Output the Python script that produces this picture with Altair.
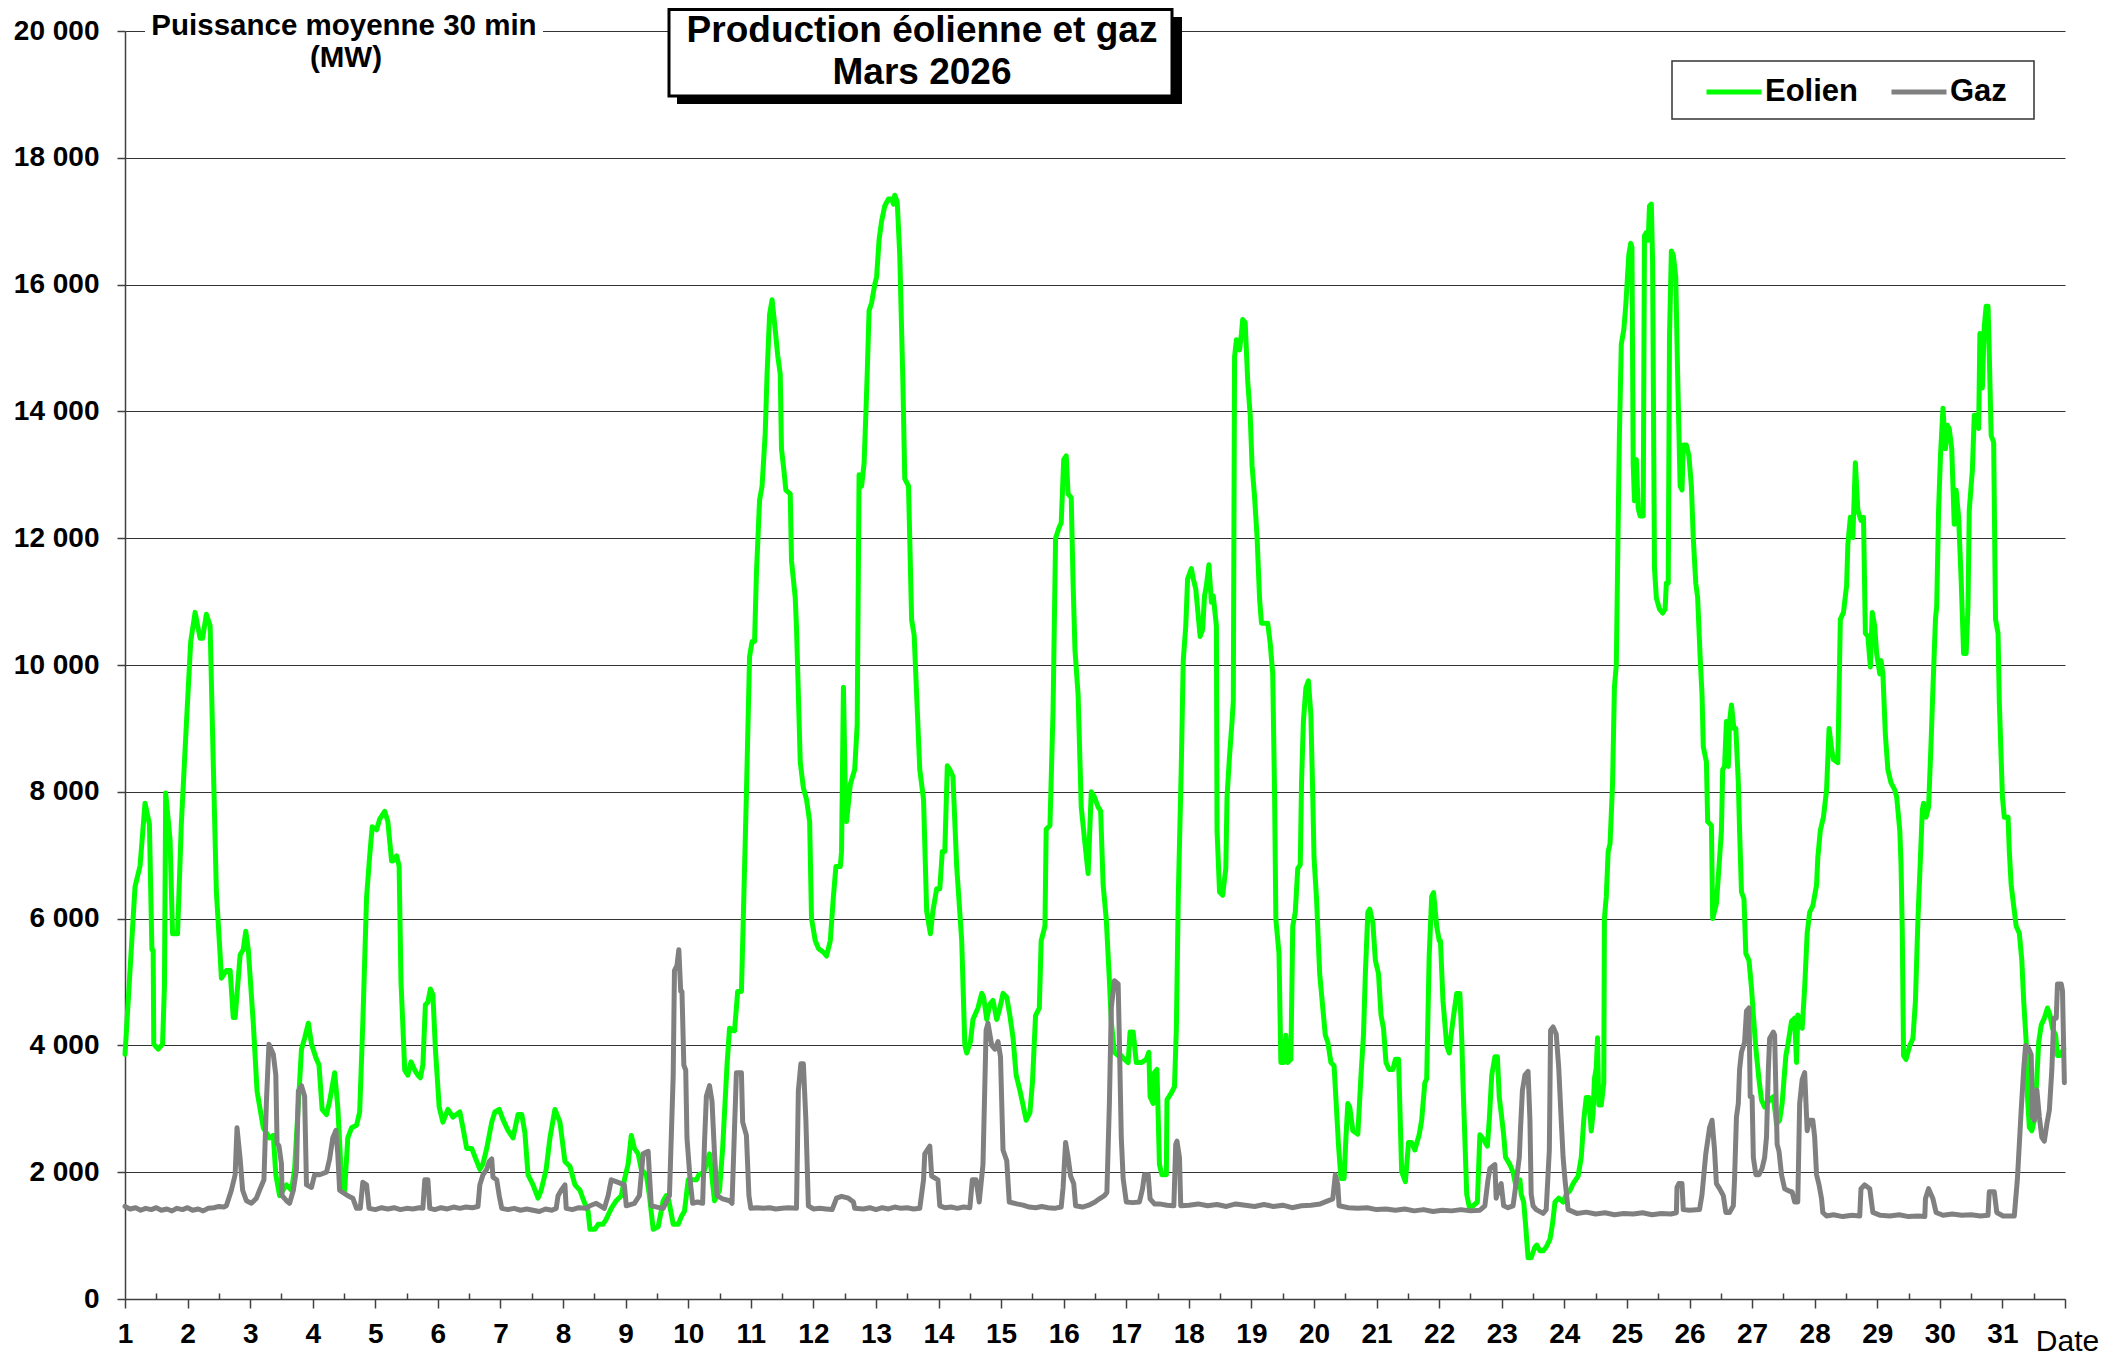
import altair as alt
import pandas as pd

# ---------------- data ----------------
eolien_t = [
    1.00, 1.05, 1.16, 1.24, 1.28, 1.32, 1.39, 1.43, 1.45, 1.46, 1.53, 1.60, 1.63, 1.65, 1.72, 1.76, 1.84, 1.90, 1.98,
    2.05, 2.12, 2.20, 2.24, 2.30, 2.36, 2.40, 2.46, 2.52, 2.54, 2.62, 2.68, 2.73, 2.76, 2.84, 2.89, 2.93, 2.97,
    3.05, 3.11, 3.21, 3.31, 3.37, 3.41, 3.47, 3.58, 3.66, 3.71, 3.82, 3.87, 3.93, 3.98,
    4.06, 4.10, 4.15, 4.22, 4.27, 4.35, 4.40, 4.46, 4.51, 4.56, 4.62, 4.70, 4.75, 4.80, 4.86, 4.91, 4.95,
    5.02, 5.07, 5.15, 5.20, 5.26, 5.28, 5.34, 5.38, 5.41, 5.47, 5.52, 5.57, 5.63, 5.68, 5.72, 5.76, 5.80, 5.84, 5.88, 5.92, 5.96,
    6.02, 6.08, 6.16, 6.24, 6.35, 6.40, 6.46, 6.54, 6.62, 6.67, 6.72, 6.78, 6.86, 6.91, 6.98,
    7.04, 7.12, 7.20, 7.28, 7.34, 7.39, 7.44, 7.52, 7.60, 7.65, 7.73, 7.79, 7.87, 7.95,
    8.03, 8.11, 8.19, 8.27, 8.33, 8.40, 8.43, 8.51, 8.56, 8.64, 8.69, 8.77, 8.85, 8.93, 8.98,
    9.04, 9.09, 9.14, 9.20, 9.25, 9.33, 9.38, 9.44, 9.52, 9.60, 9.65, 9.69, 9.76, 9.84, 9.89, 9.94,
    10.00, 10.13, 10.17, 10.25, 10.34, 10.42, 10.50, 10.55, 10.62, 10.66, 10.74, 10.79, 10.85, 10.88, 10.93, 10.98,
    11.02, 11.06, 11.09, 11.14, 11.18, 11.23, 11.26, 11.30, 11.34, 11.39, 11.43, 11.47, 11.49, 11.53, 11.56, 11.63, 11.65,
    11.71, 11.73, 11.79, 11.84, 11.89, 11.94, 11.97,
    12.03, 12.08, 12.16, 12.21, 12.27, 12.32, 12.36, 12.43, 12.45, 12.48, 12.51, 12.53, 12.59, 12.66, 12.70, 12.73, 12.77,
    12.81, 12.84, 12.86, 12.89, 12.93, 12.98,
    13.01, 13.05, 13.09, 13.14, 13.20, 13.25, 13.28, 13.30, 13.34, 13.38, 13.43, 13.46, 13.52, 13.57, 13.61, 13.65, 13.70,
    13.76, 13.81, 13.87, 13.91, 13.97,
    14.02, 14.06, 14.10, 14.14, 14.18, 14.23, 14.29, 14.33, 14.37, 14.42, 14.45, 14.51, 14.55, 14.63, 14.69, 14.72, 14.77,
    14.82, 14.87, 14.93, 14.98,
    15.03, 15.09, 15.14, 15.19, 15.24, 15.30, 15.35, 15.40, 15.46, 15.50, 15.55, 15.61, 15.64, 15.70, 15.72, 15.78, 15.83,
    15.87, 15.93, 15.96,
    16.00, 16.04, 16.07, 16.12, 16.15, 16.18, 16.23, 16.28, 16.34, 16.39, 16.44, 16.49, 16.55, 16.59, 16.63, 16.68, 16.73,
    16.76, 16.81, 16.87, 16.92, 16.97,
    17.03, 17.06, 17.11, 17.16, 17.24, 17.32, 17.36, 17.38, 17.43, 17.45, 17.49, 17.53, 17.57, 17.64, 17.65, 17.72, 17.77,
    17.80, 17.83, 17.88, 17.91, 17.95, 17.98,
    18.04, 18.07, 18.11, 18.14, 18.18, 18.22, 18.25, 18.28, 18.32, 18.36, 18.39, 18.44, 18.45, 18.49, 18.54, 18.59, 18.61,
    18.65, 18.69, 18.71, 18.73, 18.76, 18.81, 18.84, 18.86, 18.90, 18.94, 18.98,
    19.01, 19.05, 19.09, 19.13, 19.16, 19.21, 19.26, 19.30, 19.34, 19.37, 19.39, 19.44, 19.47, 19.51, 19.55, 19.58, 19.63,
    19.66, 19.70, 19.74, 19.78, 19.80, 19.83, 19.87, 19.91, 19.95, 19.98,
    20.00, 20.04, 20.09, 20.14, 20.18, 20.22, 20.27, 20.32, 20.36, 20.39, 20.43, 20.48, 20.51, 20.54, 20.57, 20.62, 20.70,
    20.75, 20.79, 20.82, 20.86, 20.89, 20.94, 20.98,
    21.03, 21.07, 21.11, 21.15, 21.20, 21.26, 21.30, 21.35, 21.37, 21.40, 21.46, 21.51, 21.56, 21.61, 21.68, 21.72, 21.77,
    21.80, 21.84, 21.88, 21.91, 21.96,
    22.00, 22.02, 22.06, 22.12, 22.16, 22.20, 22.23, 22.28, 22.33, 22.36, 22.38, 22.44, 22.49, 22.54, 22.61, 22.65, 22.70,
    22.77, 22.80, 22.84, 22.89, 22.93, 22.96, 22.99,
    23.03, 23.06, 23.13, 23.18, 23.23, 23.29, 23.31, 23.35, 23.38, 23.42, 23.47, 23.53, 23.56, 23.61, 23.66, 23.71, 23.77,
    23.81, 23.85, 23.91, 23.98,
    24.03, 24.09, 24.14, 24.22, 24.27, 24.31, 24.35, 24.39, 24.43, 24.46, 24.48, 24.51, 24.53, 24.55, 24.59, 24.63, 24.64,
    24.67, 24.70, 24.73, 24.77, 24.80, 24.83, 24.86, 24.88, 24.91, 24.95, 24.98,
    25.03, 25.06, 25.08, 25.10, 25.12, 25.15, 25.18, 25.21, 25.26, 25.28, 25.31, 25.34, 25.36, 25.39, 25.41, 25.44, 25.47,
    25.52, 25.57, 25.61, 25.63, 25.66, 25.68, 25.71, 25.74, 25.78, 25.81, 25.85, 25.88, 25.90, 25.95, 25.99,
    26.03, 26.06, 26.10, 26.13, 26.17, 26.20, 26.22, 26.27, 26.29, 26.35, 26.37, 26.43, 26.47, 26.51, 26.53, 26.56, 26.59,
    26.62, 26.64, 26.67, 26.71, 26.74, 26.78, 26.80, 26.83, 26.87, 26.90, 26.95, 26.99,
    27.02, 27.06, 27.11, 27.15, 27.20, 27.28, 27.34, 27.39, 27.44, 27.48, 27.54, 27.57, 27.63, 27.68, 27.71, 27.73, 27.80,
    27.84, 27.88, 27.92, 27.97,
    28.03, 28.05, 28.09, 28.14, 28.19, 28.23, 28.27, 28.30, 28.37, 28.41, 28.46, 28.51, 28.53, 28.57, 28.61, 28.65, 28.69,
    28.74, 28.78, 28.81, 28.85, 28.89, 28.92, 28.96, 28.99,
    29.04, 29.06, 29.09, 29.13, 29.17, 29.22, 29.28, 29.31, 29.36, 29.38, 29.40, 29.42, 29.46, 29.52, 29.57, 29.61, 29.65,
    29.69, 29.72, 29.74, 29.78, 29.82, 29.86, 29.89, 29.93, 29.95, 29.98,
    30.01, 30.05, 30.09, 30.12, 30.15, 30.19, 30.23, 30.26, 30.30, 30.34, 30.38, 30.42, 30.45, 30.47, 30.52, 30.55, 30.59,
    30.62, 30.64, 30.68, 30.71, 30.74, 30.77, 30.79, 30.82, 30.86, 30.89, 30.93, 30.95,
    31.00, 31.03, 31.09, 31.11, 31.14, 31.18, 31.22, 31.27, 31.31, 31.34, 31.38, 31.40, 31.43, 31.47, 31.51, 31.54, 31.58,
    31.62, 31.67, 31.72, 31.76, 31.80, 31.85, 31.88, 31.92, 31.98,
]
eolien_mw = [
    3860, 4680, 6500, 6830, 7320, 7820, 7490, 5510, 5500, 4020, 3940, 4020, 4930, 7980, 7240, 5760, 5760, 7490, 9050,
    10370, 10830, 10420, 10420, 10800, 10620, 8890, 6420, 5430, 5060, 5180, 5180, 4440, 4440, 5430, 5510, 5800, 5510,
    4350, 3280, 2700, 2540, 2580, 1960, 1630, 1800, 1715, 2045, 3940, 4110, 4350, 4020,
    3780, 3690, 2990, 2910, 3120, 3570, 3030, 1880, 1715, 2540, 2700, 2740, 2950, 4350, 6330, 6990, 7450,
    7400, 7570, 7690, 7530, 6910, 6910, 6990, 6830, 5010, 3610, 3530, 3740, 3610, 3530, 3490, 3690, 4640, 4680, 4890, 4800, 3940,
    3030, 2790, 2990, 2870, 2950, 2700, 2375, 2375, 2170, 2045, 2130, 2375, 2790, 2950, 2990,
    2830, 2660, 2540, 2910, 2910, 2620, 1960, 1800, 1590, 1715, 2045, 2540, 2990, 2790,
    2170, 2090, 1800, 1715, 1550, 1385, 1100, 1100, 1180, 1180, 1260, 1430, 1550, 1630, 1880,
    2130, 2580, 2375, 2290, 2045, 1960, 1630, 1100, 1140, 1550, 1630, 1550, 1180, 1180, 1300, 1385,
    1880, 1880, 1960, 2000, 2290, 1550, 1715, 2375, 3690, 4270, 4230, 4850, 4850, 6000, 7980, 10130,
    10370, 10370, 11450, 12600, 12820, 13650, 14590, 15530, 15760, 15290, 14880, 14590, 13410, 13060, 12760, 12700, 11650,
    11060, 10590, 8470, 8060, 7880, 7530, 6000,
    5650, 5530, 5470, 5410, 5650, 6350, 6820, 6820, 7060, 9650, 8000, 7530, 8120, 8350, 9060, 13000, 12820,
    13180, 14000, 14590, 15590, 15710, 16000,
    16120, 16710, 17000, 17240, 17350, 17350, 17270, 17410, 17300, 16470, 14470, 12940, 12820, 10710, 10470, 9530, 8350,
    7880, 6120, 5760, 6120, 6470,
    6470, 7060, 7060, 8410, 8350, 8240, 6820, 6240, 5650, 4000, 3880, 4060, 4410, 4590, 4820, 4760, 4410,
    4650, 4710, 4410, 4590,
    4820, 4760, 4470, 4120, 3530, 3290, 3060, 2820, 2940, 3410, 4470, 4590, 5650, 5880, 7410, 7470, 9290,
    12000, 12180, 12240,
    13240, 13300, 12700, 12640, 11290, 10240, 9530, 7760, 7180, 6710, 8000, 7920, 7760, 7700, 6530, 5990, 5020,
    4380, 3890, 3840, 3840, 3780,
    3730, 4210, 4210, 3730, 3730, 3780, 3890, 3190, 3085, 3570, 3620, 2120, 1960, 1960, 3140, 3250, 3350,
    4270, 6310, 8460, 10070, 10610, 11360,
    11520, 11360, 11200, 10880, 10450, 10560, 11090, 11250, 11580, 10990, 11090, 10610, 7390, 6420, 6370, 6790, 7920,
    8570, 9110, 9430, 14860, 15130, 14970, 15230, 15450, 15400, 14480, 13940,
    13140, 12650, 12010, 11040, 10660, 10660, 10660, 10340, 9860, 7920, 5990, 5450, 3730, 3730, 4160, 3730, 3780,
    5880, 6100, 6790, 6850, 8140, 9110, 9640, 9750, 9210, 7920,
    6960, 6310, 5130, 4590, 4160, 4050, 3730, 3680, 2980, 2440, 1900, 1900, 2550, 3085, 3030, 2655, 2600,
    3520, 4160, 5130, 6100, 6150, 5930, 5340,
    5130, 4480, 4270, 3730, 3620, 3620, 3780, 3780, 3085, 2010, 1850, 2470, 2470, 2350, 2590, 2820, 3410,
    3470, 5410, 6350, 6410, 5880,
    5650, 5650, 4710, 4000, 3880, 4240, 4470, 4820, 4820, 4120, 3410, 1650, 1410, 1470, 1530, 2590, 2530,
    2410, 2820, 3530, 3820, 3820, 3180, 2940,
    2590, 2235, 2120, 2000, 1760, 1880, 1650, 1530, 1180, 650, 650, 820, 850, 760, 760, 820, 940,
    1180, 1530, 1590, 1530,
    1650, 1710, 1820, 1940, 2235, 2820, 3180, 3180, 2650, 2940, 3470, 3650, 4120, 3060, 3060, 3410, 6000,
    6350, 7060, 7180, 8120, 9650, 10000, 12240, 13650, 15060, 15290, 15650,
    16470, 16650, 16590, 13180, 12590, 13240, 12470, 12350, 12350, 16770, 16820, 16700, 17240, 17270, 16350, 11530, 11060,
    10880, 10820, 10880, 11290, 11290, 15180, 16530, 16470, 16120, 14590, 12820, 12760, 13470, 13470, 13300,
    12820, 12000, 11290, 11060, 10120, 9530, 8710, 8470, 7530, 7470, 6000, 6240, 6800, 7390, 8350, 8400, 9110,
    8400, 9110, 9370, 9000, 9000, 8140, 7390, 6420, 6310, 5450, 5340, 4910,
    4480, 3950, 3460, 3140, 3030, 3140, 3190, 2760, 2820, 3085, 3840, 4000, 4380, 4430, 3730, 4480, 4270,
    4910, 5770, 6100, 6200,
    6530, 6960, 7390, 7600, 8030, 9000, 8680, 8510, 8460, 10720, 10830, 11250, 11900, 12330, 12010, 13190, 12440,
    12280, 12330, 10500, 10450, 9970, 10830, 10610, 10180,
    9860, 10070, 9860, 8890, 8350, 8140, 8030, 7920, 7390, 6850, 5770, 3840, 3780, 4000, 4110, 4700, 5990,
    6960, 7710, 7820, 7600, 7760, 8780, 9640, 10720, 10930, 12440,
    13300, 14050, 13410, 13780, 13730, 13410, 12220, 12760, 12330, 11360, 10180, 10180, 10930, 12440, 13080, 13940, 13940,
    13730, 15230, 14370, 15340, 15660, 15660, 14910, 13620, 13510, 10720, 10500, 9430,
    7920, 7600, 7600, 7060, 6530, 6200, 5880, 5770, 5340, 4700, 4050, 3190, 2710, 2655, 2820, 3300, 4050,
    4320, 4430, 4590, 4480, 4270, 4160, 3840, 3840, 3950,
]

gaz_t = [
    1.00, 1.08, 1.17, 1.25, 1.33, 1.42, 1.50, 1.58, 1.67, 1.75, 1.83, 1.92, 2.00, 2.08, 2.17, 2.25, 2.33, 2.42, 2.50,
    2.58, 2.62, 2.70, 2.76, 2.79, 2.84, 2.88, 2.94, 3.02, 3.10, 3.15, 3.22, 3.26, 3.30, 3.37, 3.41, 3.43, 3.46, 3.50,
    3.51, 3.58, 3.63, 3.69, 3.74, 3.77, 3.82, 3.87, 3.90, 3.98, 4.03, 4.11, 4.22, 4.27, 4.32, 4.37, 4.40, 4.43, 4.48,
    4.56, 4.64, 4.70, 4.76, 4.80, 4.86, 4.90, 5.00, 5.10, 5.20, 5.30, 5.40, 5.50, 5.60, 5.70, 5.76, 5.79, 5.84, 5.87,
    5.95, 6.05, 6.15, 6.25, 6.35, 6.45, 6.55, 6.64, 6.67, 6.72, 6.78, 6.82, 6.86, 6.88, 6.94, 6.98, 7.02, 7.12, 7.22,
    7.32, 7.42, 7.52, 7.62, 7.72, 7.82, 7.89, 7.92, 7.97, 8.03, 8.05, 8.15, 8.25, 8.37, 8.43, 8.53, 8.66, 8.72, 8.77,
    8.88, 8.98, 9.01, 9.14, 9.22, 9.28, 9.36, 9.38, 9.41, 9.50, 9.60, 9.70, 9.76, 9.78, 9.82, 9.85, 9.88, 9.90, 9.93,
    9.96, 9.98, 10.03, 10.07, 10.15, 10.23, 10.26, 10.29, 10.34, 10.38, 10.42, 10.46, 10.55, 10.66, 10.70, 10.74,
    10.77, 10.85, 10.87, 10.93, 10.97, 11.00, 11.10, 11.20, 11.30, 11.40, 11.50, 11.60, 11.73, 11.76, 11.80, 11.84,
    11.88, 11.92, 12.00, 12.10, 12.20, 12.30, 12.37, 12.45, 12.56, 12.64, 12.66, 12.80, 12.90, 13.00, 13.10, 13.20,
    13.30, 13.40, 13.50, 13.60, 13.70, 13.76, 13.78, 13.86, 13.89, 13.99, 14.02, 14.10, 14.20, 14.30, 14.40, 14.50,
    14.54, 14.60, 14.65, 14.71, 14.76, 14.79, 14.85, 14.90, 14.95, 14.99, 15.03, 15.09, 15.13, 15.25, 15.35, 15.45,
    15.55, 15.65, 15.75, 15.85, 15.96, 15.99, 16.03, 16.07, 16.11, 16.16, 16.19, 16.30, 16.40, 16.50, 16.57, 16.65,
    16.69, 16.73, 16.76, 16.81, 16.87, 16.89, 16.92, 16.95, 17.00, 17.10, 17.21, 17.26, 17.29, 17.35, 17.38, 17.45,
    17.53, 17.65, 17.76, 17.79, 17.81, 17.85, 17.87, 18.00, 18.15, 18.30, 18.45, 18.60, 18.75, 18.90, 19.05, 19.20,
    19.35, 19.50, 19.65, 19.80, 19.95, 20.10, 20.30, 20.34, 20.38, 20.40, 20.55, 20.70, 20.85, 21.00, 21.15, 21.30,
    21.45, 21.60, 21.75, 21.90, 22.05, 22.20, 22.35, 22.50, 22.65, 22.73, 22.78, 22.81, 22.89, 22.91, 22.96, 22.99,
    23.03, 23.10, 23.18, 23.22, 23.28, 23.30, 23.33, 23.37, 23.42, 23.45, 23.47, 23.50, 23.55, 23.66, 23.71, 23.76,
    23.78, 23.82, 23.87, 23.91, 23.95, 23.98, 24.01, 24.06, 24.20, 24.35, 24.50, 24.65, 24.80, 24.95, 25.10, 25.25,
    25.40, 25.55, 25.70, 25.79, 25.80, 25.83, 25.88, 25.90, 26.00, 26.16, 26.20, 26.26, 26.32, 26.36, 26.40, 26.43,
    26.48, 26.54, 26.58, 26.64, 26.70, 26.72, 26.75, 26.78, 26.80, 26.83, 26.88, 26.91, 26.95, 26.97, 27.00, 27.02,
    27.06, 27.11, 27.16, 27.20, 27.23, 27.26, 27.28, 27.34, 27.36, 27.40, 27.43, 27.47, 27.52, 27.60, 27.64, 27.68,
    27.73, 27.76, 27.80, 27.84, 27.88, 27.92, 27.97, 28.00, 28.03, 28.07, 28.11, 28.13, 28.19, 28.30, 28.45, 28.60,
    28.72, 28.74, 28.80, 28.88, 28.93, 29.05, 29.20, 29.35, 29.50, 29.65, 29.76, 29.77, 29.82, 29.89, 29.94, 30.05,
    30.20, 30.35, 30.50, 30.65, 30.77, 30.79, 30.87, 30.91, 31.01, 31.19, 31.24, 31.30, 31.34, 31.37, 31.42, 31.46,
    31.48, 31.51, 31.55, 31.59, 31.63, 31.67, 31.71, 31.75, 31.79, 31.82, 31.86, 31.88, 31.94, 31.96, 31.99,
]
gaz_mw = [
    1460, 1420, 1440, 1400, 1430, 1410, 1440, 1400, 1420, 1390, 1430, 1410, 1440, 1400, 1420, 1390, 1430, 1440, 1460,
    1450, 1470, 1715, 1960, 2700, 2210, 1715, 1550, 1510, 1590, 1715, 1880, 3120, 4020, 3860, 3530, 2460, 2415, 2130,
    1630, 1550, 1510, 1715, 2045, 3280, 3365, 3200, 1800, 1760, 1960, 1960, 2000, 2210, 2540, 2660, 2290, 1715, 1680,
    1630, 1590, 1430, 1430, 1840, 1800, 1430, 1410, 1440, 1420, 1440, 1410, 1430, 1420, 1440, 1430, 1880, 1880, 1430,
    1410, 1440, 1420, 1450, 1430, 1450, 1440, 1460, 1800, 1960, 2045, 2170, 2210, 1920, 1880, 1630, 1430, 1410, 1430,
    1400, 1420, 1400, 1380, 1420, 1400, 1430, 1630, 1715, 1800, 1430, 1410, 1440, 1430, 1470, 1510, 1430, 1630, 1880,
    1840, 1800, 1470, 1510, 1630, 2290, 2330, 1960, 1470, 1450, 1430, 1630, 3530, 5180, 5260, 5510, 4850, 4850, 3690,
    3610, 2540, 1880, 1510, 1530, 1510, 2460, 3200, 3365, 3120, 2290, 1630, 1580, 1550, 1510, 2700,
    3570, 3570, 2790, 2580, 1630, 1430, 1440, 1430, 1440, 1420, 1430, 1440, 1430, 3290, 3710, 3710,
    2820, 1470, 1420, 1430, 1420, 1410, 1590, 1620, 1590, 1530, 1430, 1420, 1440, 1410, 1440, 1420,
    1450, 1430, 1440, 1420, 1430, 1880, 2290, 2410, 1940, 1880, 1470, 1440, 1450, 1430, 1450, 1440,
    1880, 1880, 1530, 2120, 4240, 4350, 4000, 3940, 4060, 3820, 2350, 2180, 1530, 1500, 1480, 1450,
    1440, 1460, 1440, 1430, 1450, 1760, 2470, 2235, 1940, 1820, 1470, 1450, 1480, 1530, 1580, 1630,
    1680, 3085, 4590, 5020, 4970, 4050, 2550, 1900, 1530, 1520, 1530, 1740, 1960, 1960, 1580, 1500,
    1500, 1480, 1470, 2440, 2490, 2230, 1470, 1480, 1500, 1470, 1490, 1460, 1500, 1480, 1460, 1490,
    1460, 1480, 1440, 1470, 1480, 1500, 1580, 1960, 1800, 1470, 1440, 1430, 1440, 1410, 1420, 1400,
    1420, 1390, 1410, 1380, 1400, 1390, 1410, 1390, 1400, 1470, 1880, 2060, 2120, 1590, 1760, 1820,
    1470, 1440, 1470, 1760, 2235, 2700, 3290, 3530, 3590, 2820, 1650, 1470, 1410, 1350, 1410, 2350,
    4240, 4290, 4180, 3650, 2820, 2235, 1880, 1410, 1350, 1370, 1340, 1360, 1330, 1350, 1340, 1360,
    1330, 1350, 1340, 1360, 1760, 1820, 1820, 1410, 1400, 1410, 1650, 2290, 2700, 2820, 2350, 1820,
    1740, 1630, 1365, 1365, 1470, 1900, 2870, 3085, 3620, 3890, 4050, 4540, 4590, 3190, 3190, 2230,
    1960, 1960, 2060, 2230, 2550, 3620, 4110, 4210, 4160, 2440, 2330, 1960, 1740, 1700, 1690, 1530,
    1530, 3085, 3460, 3570, 2655, 2820, 2820, 2550, 1960, 1800, 1580, 1365, 1310, 1330, 1300, 1320,
    1310, 1740, 1800, 1740, 1365, 1320, 1310, 1330, 1300, 1310, 1300, 1580, 1740, 1580, 1365, 1320,
    1340, 1320, 1330, 1310, 1320, 1690, 1690, 1365, 1310, 1310, 1900, 2980, 3620, 4000, 3950, 3850,
    2870, 2820, 3300, 2870, 2550, 2490, 2760, 2980, 3620, 4430, 4430, 4970, 4970, 4860, 3410,
]

series_names = ["Eolien", "Gaz"]
series_colors = ["#00FF00", "#808080"]

day_ticks = list(range(1, 33))
half_day_ticks = [d + 0.5 for d in range(1, 32)]
power_ticks = list(range(0, 20001, 2000))

title_lines = ["Production éolienne et gaz", "Mars 2026"]
y_title_lines = ["Puissance moyenne 30 min", "(MW)"]
x_title = "Date"

# ---------------- build ----------------
df = pd.concat([
    pd.DataFrame({"t": eolien_t, "mw": eolien_mw, "serie": series_names[0]}),
    pd.DataFrame({"t": gaz_t, "mw": gaz_mw, "serie": series_names[1]}),
], ignore_index=True)

FONT = "Liberation Sans"
W, H = 1940, 1268
AXIS_COLOR = "#404040"

x_scale = alt.Scale(domain=[1, 32], nice=False, zero=False)
y_scale = alt.Scale(domain=[0, 20000], nice=False)

x_axis = alt.Axis(
    orient="bottom", values=day_ticks, format="d",
    labelExpr="datum.value < 32 ? datum.label : ''",
    labelFont=FONT, labelFontSize=28, labelFontWeight="bold", labelColor="black",
    labelPadding=12, labelFlush=False, labelOverlap=False,
    tickSize=9, tickColor=AXIS_COLOR, tickWidth=1.5,
    domainColor=AXIS_COLOR, domainWidth=1.5, grid=False,
    title=x_title, titleFont=FONT, titleFontSize=30, titleFontWeight="normal",
    titleColor="black", titleAlign="center", titleBaseline="alphabetic",
    titleX=W + 2, titleY=51, titleAnchor="end",
)
y_axis = alt.Axis(
    values=power_ticks,
    labelExpr="replace(format(datum.value, ','), ',', ' ')",
    labelFont=FONT, labelFontSize=28, labelFontWeight="bold", labelColor="black",
    labelPadding=18, tickSize=8, tickColor=AXIS_COLOR, tickWidth=1.5,
    domainColor=AXIS_COLOR, domainWidth=1.5,
    grid=True, gridColor="#333333", gridWidth=1.1, title=None,
)

lines = alt.Chart(df).mark_line(strokeWidth=5, strokeJoin="round", strokeCap="round").encode(
    x=alt.X("t:Q", scale=x_scale, axis=x_axis),
    y=alt.Y("mw:Q", scale=y_scale, axis=y_axis),
    color=alt.Color(
        "serie:N",
        scale=alt.Scale(domain=series_names, range=series_colors),
        legend=alt.Legend(
            orient="none", legendX=1579, legendY=31, direction="horizontal", title=None,
            symbolType="stroke", symbolStrokeWidth=5, symbolSize=3025,
            labelFont=FONT, labelFontSize=31, labelFontWeight="bold", labelColor="black",
            labelOffset=1, columnPadding=22, padding=0,
        ),
    ),
)

minor = alt.Chart(pd.DataFrame({"t": half_day_ticks})).mark_point(opacity=0).encode(
    x=alt.X("t:Q", scale=x_scale, axis=alt.Axis(
        orient="bottom", values=half_day_ticks, labels=False, domain=False, grid=False,
        tickSize=6, tickColor=AXIS_COLOR, tickWidth=1.5, offset=-6, title=None,
    )),
)

one = pd.DataFrame({"k": [0]})

def box(x1, x2, y1, y2, **kw):
    return alt.Chart(one).mark_rect(**kw).encode(
        x=alt.value(x1), x2=alt.value(x2), y=alt.value(y1), y2=alt.value(y2)
    )

def label(txt, x, y, size, weight="bold"):
    return alt.Chart(one).mark_text(
        text=txt, font=FONT, fontSize=size, fontWeight=weight, color="black",
        align="center", baseline="middle",
    ).encode(x=alt.value(x), y=alt.value(y))

# title box with shadow
title_shadow = box(552, 1057, -14, 73, color="black")
title_box = box(544, 1047, -21.5, 65, fill="white", stroke="black", strokeWidth=3)
t1 = label(title_lines[0], 797, 0, 37)
t2 = label(title_lines[1], 797, 42, 37)

# y title with white background hiding the top grid line
ybg = box(20, 418, -20, 5, fill="white")
y1 = label(y_title_lines[0], 219, -5, 29.5)
y2 = label(y_title_lines[1], 221, 27, 29.5)

# legend frame
legend_frame = box(1547, 1909, 30, 88, fill="white", stroke="#333333", strokeWidth=1.5)

chart = alt.layer(
    lines, minor, ybg, y1, y2, title_shadow, title_box, t1, t2, legend_frame
).resolve_axis(x="independent").properties(
    width=W, height=H,
    padding={"left": 117, "top": 23, "right": 50, "bottom": 57},
    autosize=alt.AutoSizeParams(type="none"),
    background="white",
).configure_view(strokeWidth=0)

chart.save("out.html", embed_options={"renderer": "svg", "actions": False})
